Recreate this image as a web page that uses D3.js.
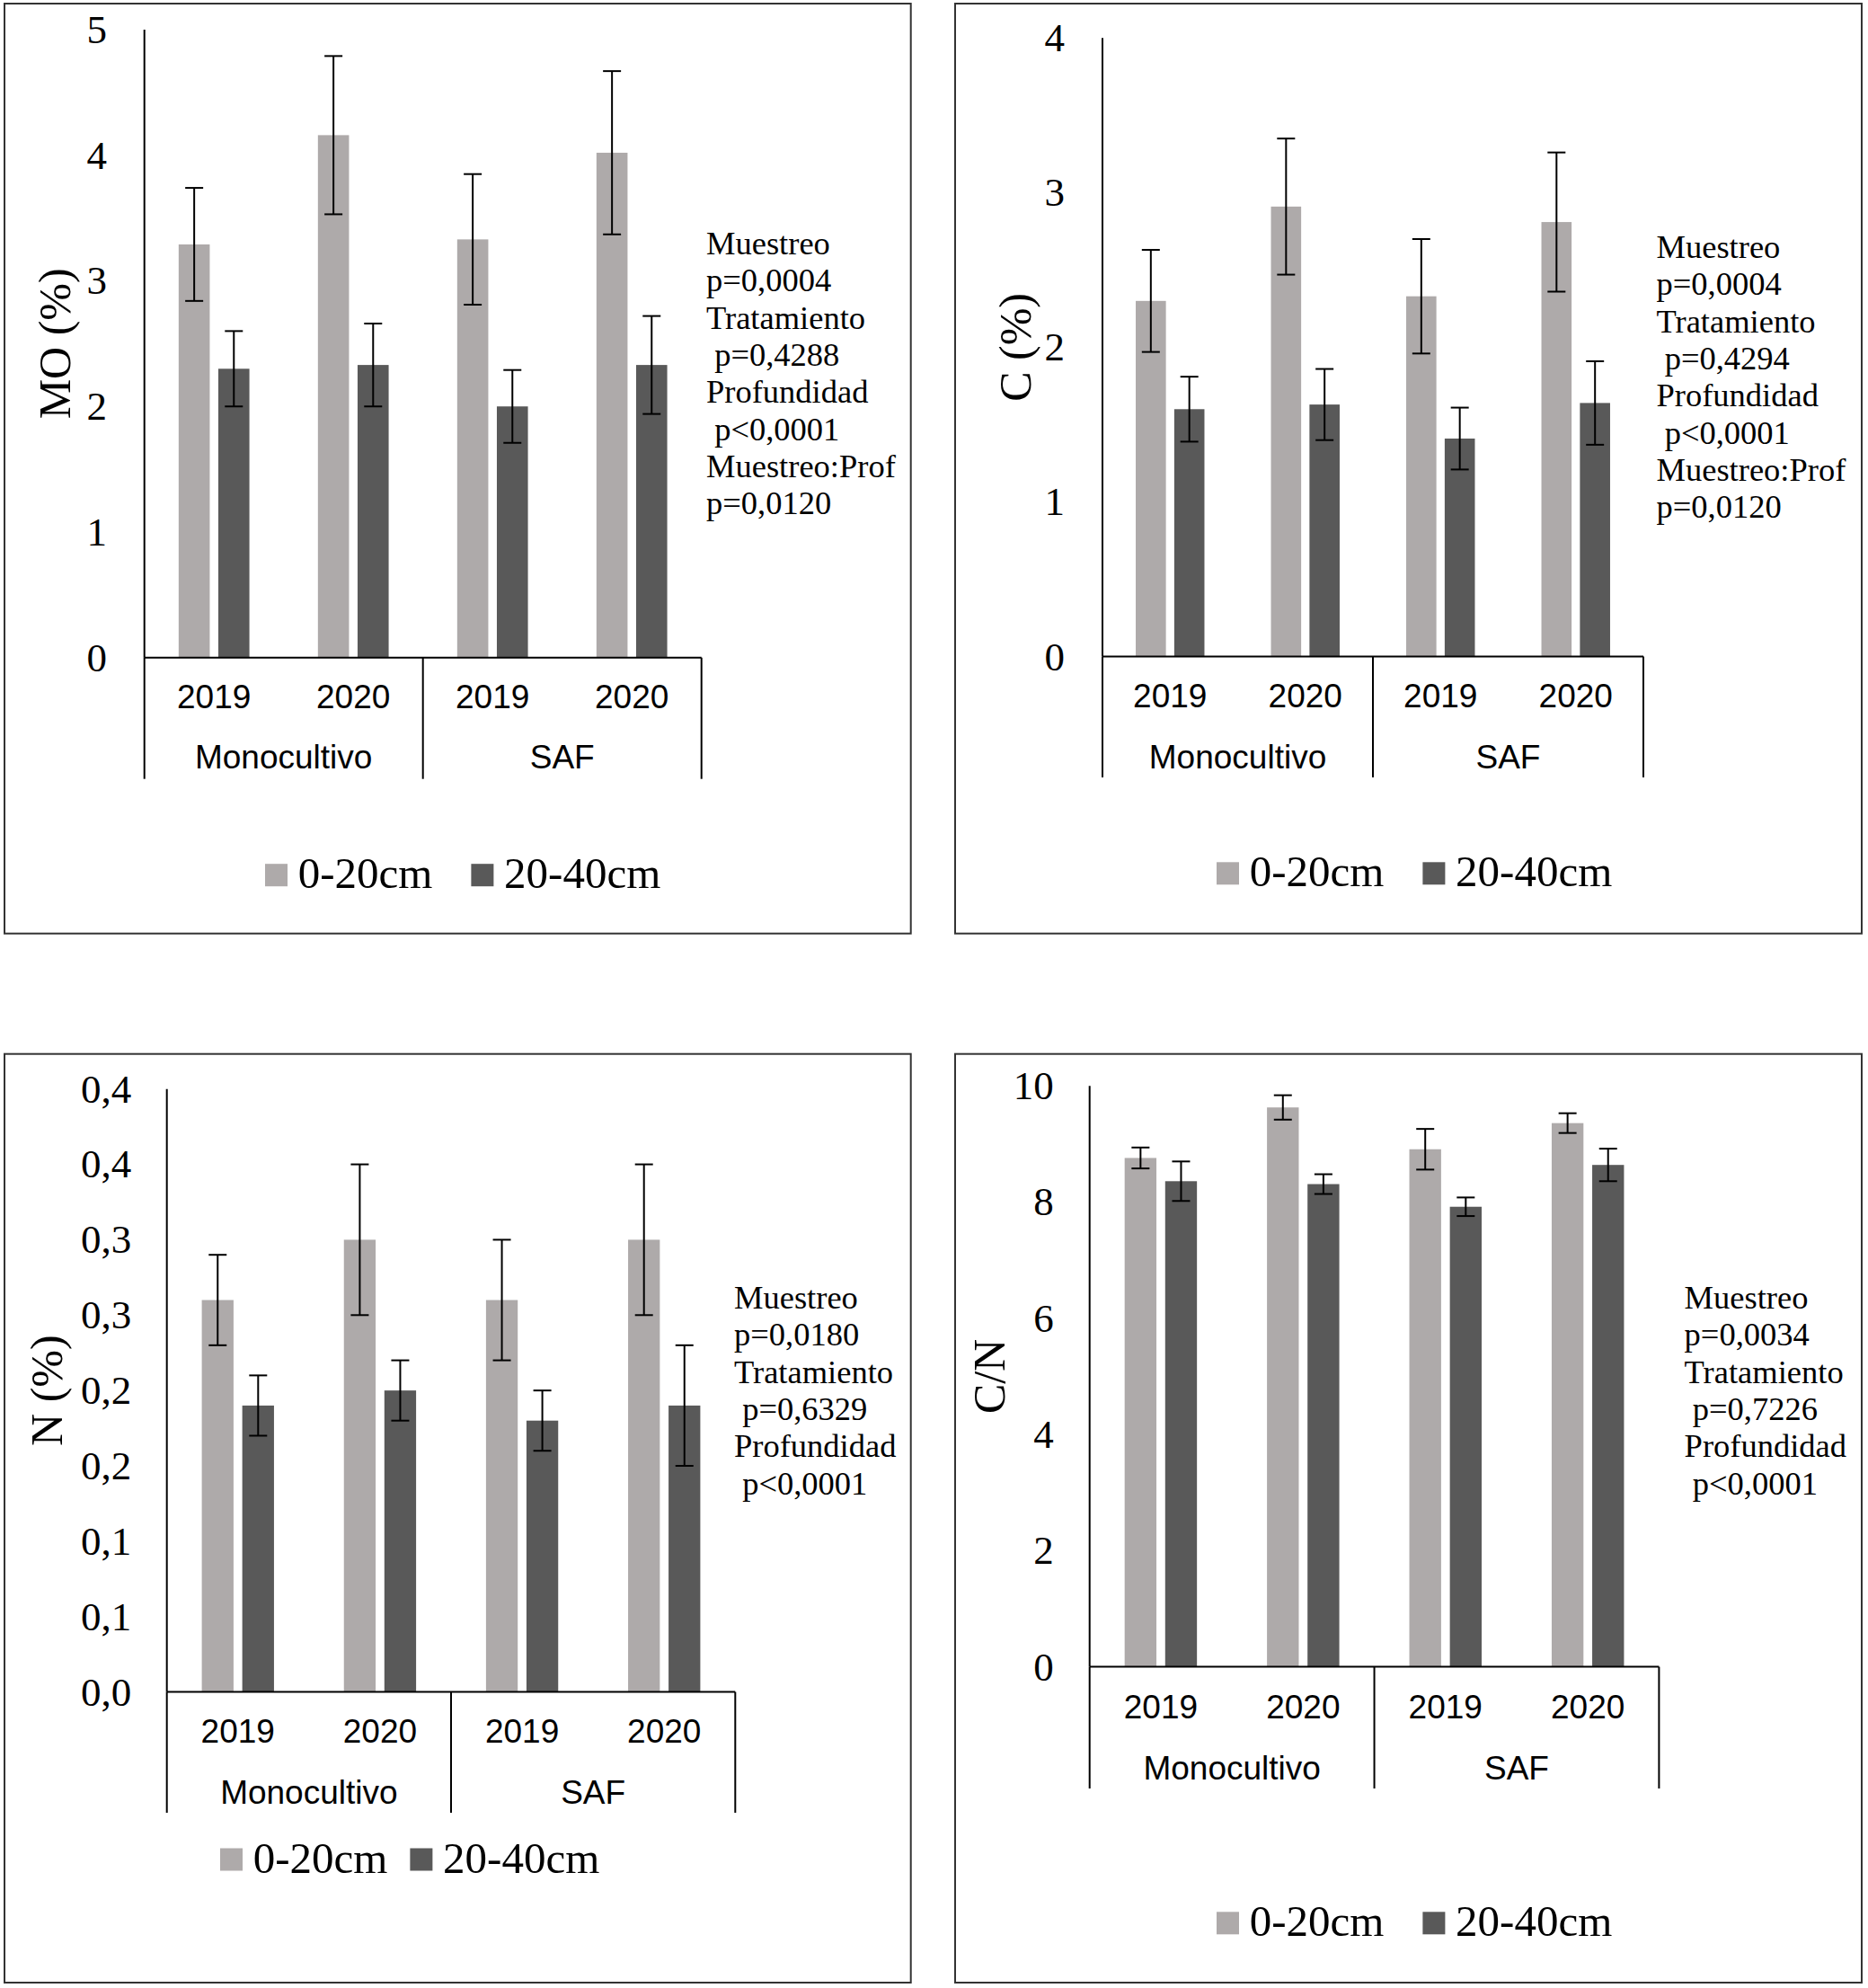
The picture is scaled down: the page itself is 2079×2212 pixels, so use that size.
<!DOCTYPE html>
<html>
<head>
<meta charset="utf-8">
<script src="https://cdn.jsdelivr.net/npm/d3@7"></script>
<style>
body { margin: 0; background: #fff; }
</style>
</head>
<body>
<script>
// categories shared by the four panels
var groups = ["Monocultivo", "SAF"],
    years = ["2019", "2020"],
    depths = ["0-20cm", "20-40cm"];

// order: Monocultivo 2019, Monocultivo 2020, SAF 2019, SAF 2020
var moTop = [3.29, 4.16, 3.33, 4.02],
    moTopErr = [0.45, 0.63, 0.52, 0.65],
    moSub = [2.30, 2.33, 2.00, 2.33],
    moSubErr = [0.30, 0.33, 0.29, 0.39];

var cTop = [2.30, 2.91, 2.33, 2.81],
    cTopErr = [0.33, 0.44, 0.37, 0.45],
    cSub = [1.60, 1.63, 1.41, 1.64],
    cSubErr = [0.21, 0.23, 0.20, 0.27];

var nTop = [0.26, 0.30, 0.26, 0.30],
    nTopErr = [0.03, 0.05, 0.04, 0.05],
    nSub = [0.19, 0.20, 0.18, 0.19],
    nSubErr = [0.02, 0.02, 0.02, 0.04];

var cnTop = [8.76, 9.63, 8.91, 9.36],
    cnTopErr = [0.18, 0.21, 0.35, 0.17],
    cnSub = [8.36, 8.31, 7.92, 8.64],
    cnSubErr = [0.34, 0.17, 0.16, 0.28];

// tick values and labels
var moTicks = [0, 1, 2, 3, 4, 5],
    moTickLabels = ["0", "1", "2", "3", "4", "5"];
var cTicks = [0, 1, 2, 3, 4],
    cTickLabels = ["0", "1", "2", "3", "4"];
var nTicks = [0, 0.05, 0.1, 0.15, 0.2, 0.25, 0.3, 0.35, 0.4],
    nTickLabels = ["0,0", "0,1", "0,1", "0,2", "0,2", "0,3", "0,3", "0,4", "0,4"];
var cnTicks = [0, 2, 4, 6, 8, 10],
    cnTickLabels = ["0", "2", "4", "6", "8", "10"];

// statistics notes
var moNotes = ["Muestreo", "p=0,0004", "Tratamiento", " p=0,4288", "Profundidad", " p<0,0001", "Muestreo:Prof", "p=0,0120"],
    cNotes = ["Muestreo", "p=0,0004", "Tratamiento", " p=0,4294", "Profundidad", " p<0,0001", "Muestreo:Prof", "p=0,0120"],
    nNotes = ["Muestreo", "p=0,0180", "Tratamiento", " p=0,6329", "Profundidad", " p<0,0001"],
    cnNotes = ["Muestreo", "p=0,0034", "Tratamiento", " p=0,7226", "Profundidad", " p<0,0001"];

var serif = "'Liberation Serif', 'Times New Roman', serif",
    sans = "'Liberation Sans', Arial, sans-serif",
    colors = ["#aeaaaa", "#595959"];

var width = 2079,
    height = 2212;

var svg = d3.select('body').append('svg')
    .attr('width', width)
    .attr('height', height);

// layout of each panel
var panels = [
  { label: "MO (%)", top: moTop, topErr: moTopErr, sub: moSub, subErr: moSubErr,
    max: 5, ticks: moTicks, tickLabels: moTickLabels, notes: moNotes,
    box: [5, 4, 1013.7, 1038.7], left: 160.7, right: 780.7, yTop: 33, yBottom: 731.7,
    sepBottom: 866.7, yearY: 788.3, groupY: 855, tickRight: 119, labelX: 78,
    noteX: 786, noteY: 283, legX: 295, legY: 973.7, legGap: 43 },
  { label: "C (%)", top: cTop, topErr: cTopErr, sub: cSub, subErr: cSubErr,
    max: 4, ticks: cTicks, tickLabels: cTickLabels, notes: cNotes,
    box: [1063, 4, 2072, 1038.7], left: 1227, right: 1829, yTop: 42.3, yBottom: 730.6,
    sepBottom: 865, yearY: 787, groupY: 855, tickRight: 1185, labelX: 1147,
    noteX: 1843.5, noteY: 287, legX: 1354, legY: 971.8, legGap: 43 },
  { label: "N (%)", top: nTop, topErr: nTopErr, sub: nSub, subErr: nSubErr,
    max: 0.4, ticks: nTicks, tickLabels: nTickLabels, notes: nNotes,
    box: [5, 1172.7, 1013.7, 2206], left: 185.7, right: 818.3, yTop: 1211.7, yBottom: 1882.6,
    sepBottom: 2017, yearY: 1938.7, groupY: 2006.6, tickRight: 146.3, labelX: 69,
    noteX: 817, noteY: 1456, legX: 245, legY: 2069, legGap: 25 },
  { label: "C/N", top: cnTop, topErr: cnTopErr, sub: cnSub, subErr: cnSubErr,
    max: 10, ticks: cnTicks, tickLabels: cnTickLabels, notes: cnNotes,
    box: [1063, 1172.7, 2072, 2206], left: 1212.7, right: 1846.4, yTop: 1208.3, yBottom: 1854.6,
    sepBottom: 1990, yearY: 1912, groupY: 1979.7, tickRight: 1172.7, labelX: 1118,
    noteX: 1874.6, noteY: 1456, legX: 1354, legY: 2139.8, legGap: 43 }
];

var cats = [];
groups.forEach(function(gr){
  years.forEach(function(yr){ cats.push(gr + ' ' + yr); });
});

var drawPanel = function(p){
  var g = svg.append('g');

  //panel frame
  g.append('rect')
      .attr('x', p.box[0]).attr('y', p.box[1])
      .attr('width', p.box[2] - p.box[0])
      .attr('height', p.box[3] - p.box[1])
      .attr('fill', 'none')
      .attr('stroke', '#333')
      .attr('stroke-width', 2);

  var x = d3.scaleBand().domain(cats).range([p.left, p.right]);
  var xd = d3.scaleBand().domain(depths).range([0, x.bandwidth()])
      .paddingInner(0.216).paddingOuter(0.864);
  var y = d3.scaleLinear().domain([0, p.max]).range([p.yBottom, p.yTop]);

  var rows = [];
  cats.forEach(function(c, i){
    rows.push({ cat: c, depth: depths[0], v: p.top[i], e: p.topErr[i] });
    rows.push({ cat: c, depth: depths[1], v: p.sub[i], e: p.subErr[i] });
  });

  //bars
  g.selectAll('rect.bar').data(rows).enter().append('rect')
      .attr('class', 'bar')
      .attr('x', function(d){ return x(d.cat) + xd(d.depth); })
      .attr('y', function(d){ return y(d.v); })
      .attr('width', xd.bandwidth())
      .attr('height', function(d){ return y(0) - y(d.v); })
      .attr('fill', function(d){ return d.depth === depths[0] ? colors[0] : colors[1]; });

  //error bars
  var cx = function(d){ return x(d.cat) + xd(d.depth) + xd.bandwidth() / 2; };
  var err = g.selectAll('g.err').data(rows).enter().append('g')
      .attr('class', 'err')
      .attr('stroke', '#000')
      .attr('stroke-width', 2);
  err.append('line')
      .attr('x1', cx).attr('x2', cx)
      .attr('y1', function(d){ return y(d.v + d.e); })
      .attr('y2', function(d){ return y(d.v - d.e); });
  [1, -1].forEach(function(s){
    err.append('line')
        .attr('x1', function(d){ return cx(d) - 10; })
        .attr('x2', function(d){ return cx(d) + 10; })
        .attr('y1', function(d){ return y(d.v + s * d.e); })
        .attr('y2', function(d){ return y(d.v + s * d.e); });
  });

  //y axis
  var yAxis = d3.axisLeft(y)
      .tickValues(p.ticks)
      .tickFormat(function(d){ return p.tickLabels[p.ticks.indexOf(d)]; })
      .tickSize(0)
      .tickPadding(p.left - p.tickRight);
  var ya = g.append('g')
      .attr('transform', 'translate(' + p.left + ',0)')
      .call(yAxis);
  ya.select('.domain').remove();
  ya.selectAll('text')
      .attr('font-family', serif)
      .attr('font-size', 45)
      .attr('fill', '#000');

  g.append('line')
      .attr('x1', p.left).attr('x2', p.left)
      .attr('y1', y(p.max)).attr('y2', y(0))
      .attr('stroke', '#000').attr('stroke-width', 2);

  //x axis line and group separators
  g.append('line')
      .attr('x1', p.left).attr('x2', p.right)
      .attr('y1', y(0)).attr('y2', y(0))
      .attr('stroke', '#000').attr('stroke-width', 2);
  var seps = [p.left, x(cats[2]), p.right];
  g.selectAll('line.sep').data(seps).enter().append('line')
      .attr('class', 'sep')
      .attr('x1', function(d){ return d; }).attr('x2', function(d){ return d; })
      .attr('y1', y(0)).attr('y2', p.sepBottom)
      .attr('stroke', '#000').attr('stroke-width', 2);

  g.selectAll('text.year').data(cats).enter().append('text')
      .attr('class', 'year')
      .attr('x', function(d){ return x(d) + x.bandwidth() / 2; })
      .attr('y', p.yearY)
      .attr('text-anchor', 'middle')
      .attr('font-family', sans)
      .attr('font-size', 37)
      .text(function(d){ return d.split(' ')[1]; });

  g.selectAll('text.group').data(groups).enter().append('text')
      .attr('class', 'group')
      .attr('x', function(d, i){ return x(cats[i * 2]) + x.bandwidth(); })
      .attr('y', p.groupY)
      .attr('text-anchor', 'middle')
      .attr('font-family', sans)
      .attr('font-size', 37)
      .text(function(d){ return d; });

  //y label
  g.append('text')
      .attr('transform', 'translate(' + p.labelX + ',' + ((p.yTop + p.yBottom) / 2) + ') rotate(-90)')
      .attr('text-anchor', 'middle')
      .attr('font-family', serif)
      .attr('font-size', 50)
      .text(p.label);

  //statistics note
  g.append('text')
      .attr('font-family', serif)
      .attr('font-size', 36.5)
      .style('white-space', 'pre')
      .selectAll('tspan').data(p.notes).enter().append('tspan')
      .attr('x', p.noteX)
      .attr('y', function(d, i){ return p.noteY + i * 41.3; })
      .text(function(d){ return d; });

  //legend
  var lx = p.legX;
  depths.forEach(function(dp, i){
    g.append('rect')
        .attr('x', lx).attr('y', p.legY - 12.5)
        .attr('width', 25).attr('height', 25)
        .attr('fill', colors[i]);
    var t = g.append('text')
        .attr('x', lx + 36.7)
        .attr('y', p.legY + 14.6)
        .attr('font-family', serif)
        .attr('font-size', 49)
        .text(dp);
    lx = lx + 36.7 + t.node().getComputedTextLength() + p.legGap;
  });
};

panels.forEach(drawPanel);
</script>
</body>
</html>
